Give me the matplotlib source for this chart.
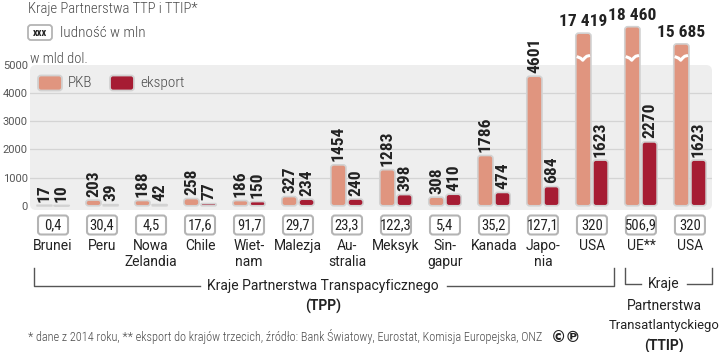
import matplotlib
matplotlib.use('Agg')
import matplotlib.pyplot as plt
from matplotlib.patches import FancyBboxPatch

# dane (mld dol. / mln osob)
kraje = ['Brunei', 'Peru', 'Nowa\nZelandia', 'Chile', 'Wiet-\nnam', 'Malezja', 'Au-\nstralia',
         'Meksyk', 'Sin-\ngapur', 'Kanada', 'Japo-\nnia', 'USA', 'UE**', 'USA']
pkb = [17, 203, 188, 258, 186, 327, 1454, 1283, 308, 1786, 4601, 17419, 18460, 15685]
eksport = [10, 39, 42, 77, 150, 234, 240, 398, 410, 474, 684, 1623, 2270, 1623]
ludnosc = ['0,4', '30,4', '4,5', '17,6', '91,7', '29,7', '23,3', '122,3', '5,4', '35,2',
           '127,1', '320', '506,9', '320']
yticks = [0, 1000, 2000, 3000, 4000, 5000]

C_PKB = '#e0957f'
C_EKS = '#a61c33'
C_TXT = '#222222'
C_GREY = '#4a4a4a'
W, H = 720, 352

LIGHT = dict(family='Roboto Condensed', weight='light')
NUM = dict(family='Roboto Condensed', weight='bold')


def fmt(v):
    return '{:,}'.format(v).replace(',', ' ') if v >= 10000 else str(v)


# slupki powyzej 10 000 sa "ucinane" (przerwa w osi)
def disp(v):
    return v if v < 10000 else 5750 + (v - 15685) * 0.22


fig = plt.figure(figsize=(W / 100, H / 100), dpi=100)
bg = fig.add_axes([0, 0, 1, 1], zorder=0)
bg.set_xlim(0, W)
bg.set_ylim(H, 0)
bg.axis('off')

ax = fig.add_axes([30 / W, 1 - 210 / H, 682 / W, 145 / H], zorder=1)
ax.set_facecolor('none')
ov = fig.add_axes([0, 0, 1, 1], zorder=2)
ov.set_xlim(0, W)
ov.set_ylim(H, 0)
ov.axis('off')

n = len(kraje)
x = list(range(n))
ax.set_xlim(-0.47, 13.45)
ax.set_ylim(-150, 5000)
for s in ax.spines.values():
    s.set_visible(False)
ax.set_xticks([])
ax.set_yticks(yticks)
ax.set_yticklabels([str(t) for t in yticks], family='Roboto', fontsize=8, color='#555555')
ax.tick_params(axis='y', length=0, pad=1.5)
for g in yticks[1:-1]:
    ax.axhline(g, color='#d4d4d4', lw=0.9, zorder=0)

# tlo wykresu
fig.canvas.draw()
bb = ax.get_window_extent()
bg.add_patch(FancyBboxPatch((bb.x0, H - bb.y1), bb.width, bb.height,
                            boxstyle='round,pad=0,rounding_size=6',
                            fc='#eeeeee', ec='none'))


def to_px(xd, yd=0):
    px, py = ax.transData.transform((xd, yd))
    return px, H - py


# skala: px na jednostke danych
px_x = to_px(1)[0] - to_px(0)[0]
px_y = to_px(0, 0)[1] - to_px(0, 1000)[1]
aspect = (1000 / px_y) / (1 / px_x)


def rounded(rect, color):
    x0, y0 = rect.get_x(), rect.get_y()
    w, h = rect.get_width(), rect.get_height()
    r_px = min(3.0, w * px_x / 2, max(h * px_y / 1000 / 2, 0.01))
    p = FancyBboxPatch((x0, y0), w, h, boxstyle='round,pad=0,rounding_size=%f' % (r_px / px_x),
                       mutation_aspect=aspect, fc=color, ec='#d2d2d2', lw=1.2,
                       clip_on=False, zorder=3)
    ax.add_patch(p)
    rect.set_visible(False)


bw = 0.31
off = 0.175
b1 = ax.bar([i - off for i in x], [disp(v) for v in pkb], bw, color=C_PKB)
b2 = ax.bar([i + off for i in x], eksport, bw, color=C_EKS)
for r in b1:
    rounded(r, C_PKB)
for r in b2:
    rounded(r, C_EKS)

# etykiety wartosci
for i in x:
    v = pkb[i]
    if v >= 10000:
        ax.annotate(fmt(v), (i - off, disp(v)), xytext=(0, 3), textcoords='offset points',
                    ha='center', va='bottom', fontsize=12.5, color=C_TXT,
                    annotation_clip=False, **NUM)
        # znak przerwy
        xl = i - off - bw / 2 + 0.02
        xr = i - off + bw / 2 - 0.02
        ww = xr - xl
        ax.plot([xl, xl + ww * 0.3, xl + ww * 0.45, xl + ww * 0.6, xl + ww * 0.75, xr],
                [5300, 5240, 5170, 5250, 5310, 5340], color='white', lw=2.2,
                solid_capstyle='butt', clip_on=False, zorder=4)
    else:
        ax.annotate(fmt(v), (i - off, v), xytext=(0, 2.5), textcoords='offset points',
                    ha='center', va='bottom', rotation=90, fontsize=12.5, color=C_TXT,
                    annotation_clip=False, **NUM)
    ax.annotate(fmt(eksport[i]), (i + off, eksport[i]), xytext=(0, 2.5), textcoords='offset points',
                ha='center', va='bottom', rotation=90, fontsize=12.5, color=C_TXT,
                annotation_clip=False, **NUM)

# ludnosc i nazwy krajow
for i in x:
    cx, _ = to_px(i)
    ov.add_patch(FancyBboxPatch((cx - 15, 215.5), 30, 19, boxstyle='round,pad=0,rounding_size=3',
                                fc='white', ec='#b4b4b4', lw=1.5))
    ov.text(cx, 225.5, ludnosc[i], ha='center', va='center', fontsize=10.5,
            family='Roboto Condensed', color=C_TXT)
    ov.text(cx, 239, kraje[i], ha='center', va='top', fontsize=10, family='Roboto',
            color=C_TXT, linespacing=1.2)

# naglowek
ov.text(28, 9, 'Kraje Partnerstwa TTP i TTIP*', ha='left', va='center', fontsize=10.5,
        color=C_GREY, **LIGHT)
ov.add_patch(FancyBboxPatch((28, 25), 24, 15, boxstyle='round,pad=0,rounding_size=3',
                            fc='white', ec='#b4b4b4', lw=1.3))
ov.text(40, 32.5, 'xxx', ha='center', va='center', fontsize=7.5, weight='bold',
        family='Roboto Condensed', color=C_TXT)
ov.text(60, 33, 'ludność w mln', ha='left', va='center', fontsize=11, color=C_GREY, **LIGHT)
ov.text(30, 59, 'w mld dol.', ha='left', va='center', fontsize=10.5, color=C_GREY, **LIGHT)

# legenda
for xs, lab, col in [(38, 'PKB', C_PKB), (110, 'eksport', C_EKS)]:
    ov.add_patch(FancyBboxPatch((xs, 75.5), 24, 15, boxstyle='round,pad=0,rounding_size=3',
                                fc=col, ec='#d2d2d2', lw=1.3))
    ov.text(xs + 30, 83, lab, ha='left', va='center', fontsize=11, color=C_GREY, **LIGHT)

# nawiasy grup
lc = '#555555'
ov.plot([34, 34, 200], [268, 286, 286], color=lc, lw=1)
ov.plot([447, 614, 614], [286, 286, 268], color=lc, lw=1)
ov.text(323, 286, 'Kraje Partnerstwa Transpacyficznego', ha='center', va='center',
        fontsize=10, family='Roboto', color=C_TXT)
ov.text(323, 306, '(TPP)', ha='center', va='center', fontsize=10, family='Roboto',
        weight='bold', color=C_TXT)

ov.plot([625, 625, 641], [268, 284, 284], color=lc, lw=1)
ov.plot([687, 712, 712], [284, 284, 268], color=lc, lw=1)
ov.text(664, 284, 'Kraje', ha='center', va='center', fontsize=10, family='Roboto', color=C_TXT)
ov.text(664, 306, 'Partnerstwa', ha='center', va='center', fontsize=10, family='Roboto', color=C_TXT)
ov.text(664, 326, 'Transatlantyckiego', ha='center', va='center', fontsize=9.4, family='Roboto',
        color=C_TXT)
ov.text(664, 346, '(TTIP)', ha='center', va='center', fontsize=10, family='Roboto',
        weight='bold', color=C_TXT)

# stopka
ov.text(28, 337, '* dane z 2014 roku, ** eksport do krajów trzecich, źródło: Bank Światowy, '
        'Eurostat, Komisja Europejska, ONZ', ha='left', va='center', fontsize=8.8, color=C_GREY, **LIGHT)
ov.text(551, 337, '©℗', ha='left', va='center', fontsize=11, weight='bold',
        family='DejaVu Sans', color=C_TXT)

fig.savefig('out.png', dpi=100)
